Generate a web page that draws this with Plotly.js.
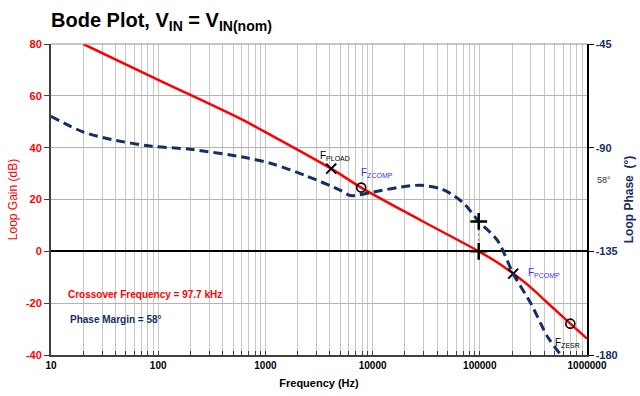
<!DOCTYPE html>
<html>
<head>
<meta charset="utf-8">
<script src="https://cdn.plot.ly/plotly-3.0.1.min.js"></script>
<style>html,body{margin:0;padding:0;background:#fff;}#chart{width:640px;height:396px;}</style>
</head>
<body>
<div id="chart"></div>
<script>
// ---- data ----
const freqGain = [20, 100, 583, 1000, 4110, 7830, 28100, 97700, 146000, 205000, 300000, 450000, 699000, 1000000];
const gainDb   = [80, 66.2, 51.2, 46, 31.9, 24.6, 12.0, 0, -4.3, -8.6, -14.0, -20.7, -27.9, -33.7];

const freqPhase = [10, 20, 36.9, 87, 199, 650, 1197, 2455, 5020, 6220, 10280, 18300, 28100, 43200, 53600, 71300, 97700, 146000, 205000, 300000, 430000, 571000];
const phaseDeg  = [-76.4, -83.2, -86.5, -89.4, -90.7, -94.3, -97.2, -102.4, -108.5, -110.8, -109.2, -107.1, -106.3, -107.8, -110, -114.3, -122, -130.2, -144.7, -157.7, -172.2, -180];

const crossoverHz = 97700;
const phaseMargin = 58;

const xMarkF = [4110, 205000];      // F_PLOAD, F_PCOMP
const xMarkG = [31.9, -8.6];
const oMarkF = [7830, 699000];      // F_ZCOMP, F_ZESR
const oMarkG = [24.6, -27.9];

const gainTickVals = [-40, -20, 0, 20, 40, 60, 80];
const gainTickText = ['-40', '-20', '0', '20', '40', '60', '80'];
const phaseTickVals = [-180, -135, -90, -45];
const phaseTickText = ['-180', '-135', '-90', '-45'];
const decadeVals = [10, 100, 1000, 10000, 100000, 1000000];
const decadeLabels = ['10', '100', '1000', '10000', '100000', '1000000'];

// ---- minor log tick positions (2..9 per decade) ----
const minorVals = [];
for (let d = 1; d <= 5; d++) {
  for (let m = 2; m <= 9; m++) minorVals.push(m * Math.pow(10, d));
}

const RED = '#ff0000';
const NAVY = '#152f66';
const BLUE = '#3333ff';
const FONT = 'Liberation Sans, Arial, sans-serif';

const traces = [
  { x: freqPhase, y: phaseDeg, yaxis: 'y2', type: 'scatter', mode: 'lines',
    line: { color: NAVY, width: 3, dash: '9px,5px', shape: 'spline', smoothing: 0.8 }, hoverinfo: 'skip' },
  { x: freqGain, y: gainDb, type: 'scatter', mode: 'lines',
    line: { color: RED, width: 2.5, shape: 'spline', smoothing: 1 }, hoverinfo: 'skip' },
  { x: [crossoverHz, crossoverHz], y: [-135, -180 + phaseMargin], yaxis: 'y2', type: 'scatter', mode: 'lines',
    line: { color: '#8c8c8c', width: 1, dash: '3px,2px' }, hoverinfo: 'skip' },
  { x: [crossoverHz, crossoverHz], y: [-135, -180 + phaseMargin], yaxis: 'y2', type: 'scatter', mode: 'markers',
    marker: { symbol: 'cross-thin-open', size: 12, color: '#000', line: { color: '#000', width: 2.5 } }, hoverinfo: 'skip' },
  { x: xMarkF, y: xMarkG, type: 'scatter', mode: 'markers',
    marker: { symbol: 'x-thin-open', size: 10, color: '#000', line: { color: '#000', width: 2 } }, hoverinfo: 'skip' },
  { x: oMarkF, y: oMarkG, type: 'scatter', mode: 'markers',
    marker: { symbol: 'circle-open', size: 9, color: '#000', line: { color: '#000', width: 1.6 } }, hoverinfo: 'skip' }
];

const lg = Math.log10;
const annotations = [
  { text: 'F<sub>PLOAD</sub>', x: lg(xMarkF[0]), y: xMarkG[0], xref: 'x', yref: 'y', showarrow: false,
    xanchor: 'left', yanchor: 'bottom', xshift: -13, yshift: 5, font: { family: FONT, size: 10, color: '#000' } },
  { text: 'F<sub>ZCOMP</sub>', x: lg(oMarkF[0]), y: oMarkG[0], xref: 'x', yref: 'y', showarrow: false,
    xanchor: 'left', yanchor: 'bottom', xshift: -2, yshift: 7, font: { family: FONT, size: 10, color: BLUE } },
  { text: 'F<sub>PCOMP</sub>', x: lg(xMarkF[1]), y: xMarkG[1], xref: 'x', yref: 'y', showarrow: false,
    xanchor: 'left', yanchor: 'middle', xshift: 13, yshift: 1, font: { family: FONT, size: 10, color: BLUE } },
  { text: 'F<sub>ZESR</sub>', x: lg(oMarkF[1]), y: oMarkG[1], xref: 'x', yref: 'y', showarrow: false,
    xanchor: 'left', yanchor: 'top', xshift: -17, yshift: -11, font: { family: FONT, size: 10, color: '#000' } },
  { text: 'Crossover Frequency = ' + (crossoverHz / 1000).toFixed(1) + ' kHz', xref: 'paper', yref: 'paper',
    x: 0.028, y: 0.196, xanchor: 'left', yanchor: 'middle', showarrow: false,
    font: { family: FONT, size: 10, color: RED, weight: 'bold' } },
  { text: 'Phase Margin = ' + phaseMargin + '°', xref: 'paper', yref: 'paper',
    x: 0.031, y: 0.113, xanchor: 'left', yanchor: 'middle', showarrow: false,
    font: { family: FONT, size: 10, color: NAVY, weight: 'bold' } },
  { text: phaseMargin + '°', xref: 'paper', yref: 'paper',
    x: 1.014, y: 0.563, xanchor: 'left', yanchor: 'middle', showarrow: false,
    font: { family: FONT, size: 9, color: '#333' } }
];

const layout = {
  width: 640, height: 396,
  margin: { l: 51, r: 53, t: 44, b: 41, pad: 0 },
  paper_bgcolor: '#fff', plot_bgcolor: '#fff',
  showlegend: false,
  font: { family: FONT },
  title: { text: 'Bode Plot, V<sub>IN</sub> = V<sub>IN(nom)</sub>', x: 0, xref: 'paper', xanchor: 'left',
    y: 0.95, yref: 'container', yanchor: 'middle',
    font: { family: FONT, size: 20, color: '#000', weight: 'bold' } },
  xaxis: {
    type: 'log', range: [1, 6], tickmode: 'array', tickvals: decadeVals, ticktext: decadeLabels,
    ticks: 'inside', ticklen: 4, tickcolor: '#404040', tickwidth: 1,
    showgrid: true, gridcolor: '#c8c8c8', gridwidth: 1, zeroline: false,
    minor: { tickmode: 'array', tickvals: minorVals, ticks: 'inside', ticklen: 4, tickcolor: '#404040',
      showgrid: true, gridcolor: '#c8c8c8', gridwidth: 1 },
    showline: true, linecolor: '#404040', linewidth: 1.5,
    tickfont: { family: FONT, size: 10, color: '#000', weight: 'bold' },
    title: { text: 'Frequency (Hz)', font: { family: FONT, size: 11, color: '#000', weight: 'bold' }, standoff: 10 }
  },
  yaxis: {
    range: [-40, 80], tickmode: 'array', tickvals: gainTickVals, ticktext: gainTickText,
    ticks: 'outside', ticklen: 5, tickcolor: '#404040',
    showgrid: true, gridcolor: '#b4b4b4', gridwidth: 1,
    zeroline: true, zerolinecolor: '#000', zerolinewidth: 2,
    showline: true, linecolor: '#404040', linewidth: 2,
    tickfont: { family: FONT, size: 11, color: RED, weight: 'bold' },
    title: { text: 'Loop Gain (dB)', font: { family: FONT, size: 12, color: RED }, standoff: 6 }
  },
  yaxis2: {
    overlaying: 'y', side: 'right', range: [-180, -45], tickmode: 'array',
    tickvals: phaseTickVals, ticktext: phaseTickText,
    ticks: 'outside', ticklen: 5, tickcolor: '#000',
    showgrid: false, zeroline: false,
    showline: true, linecolor: '#000', linewidth: 1.5,
    tickfont: { family: FONT, size: 11, color: NAVY, weight: 'bold' },
    title: { text: 'Loop Phase  (°)', font: { family: FONT, size: 12, color: NAVY, weight: 'bold' }, standoff: 8 }
  },
  shapes: [
    { type: 'line', xref: 'paper', yref: 'paper', x0: 0, x1: 1, y0: 1, y1: 1, line: { color: '#909090', width: 1 } }
  ],
  annotations: annotations
};

Plotly.newPlot('chart', traces, layout, { staticPlot: true, displayModeBar: false });
</script>
</body>
</html>
